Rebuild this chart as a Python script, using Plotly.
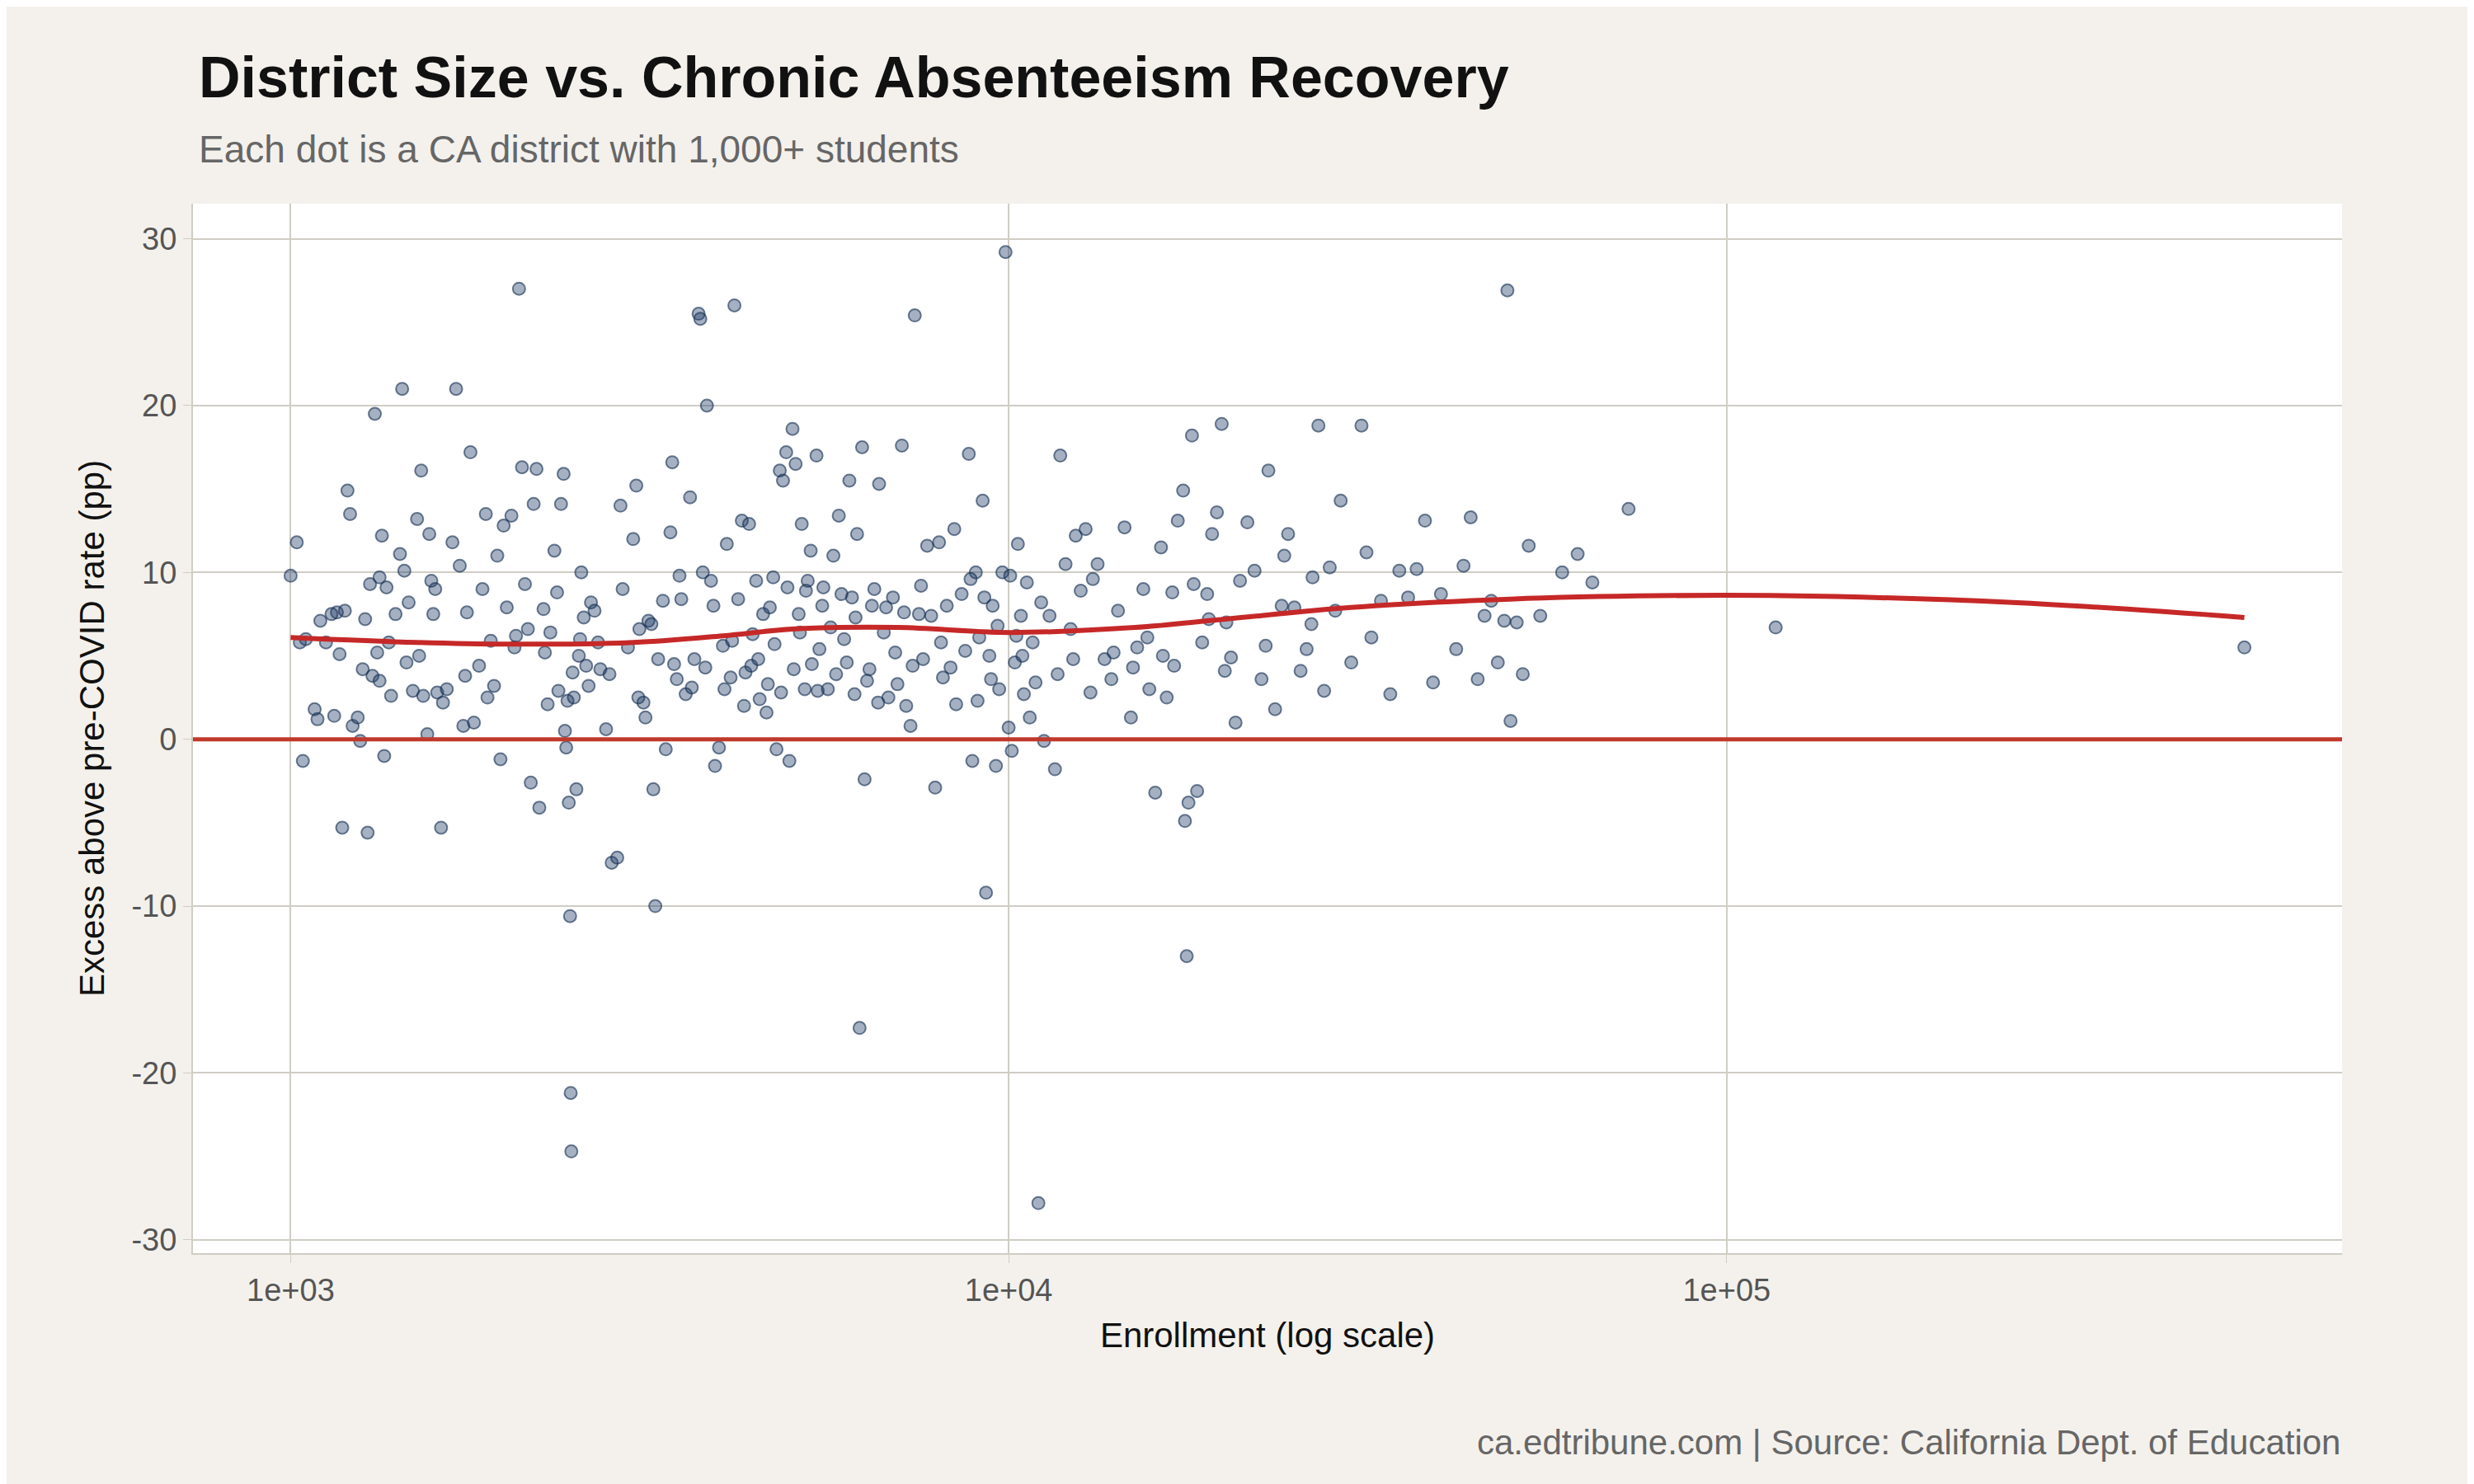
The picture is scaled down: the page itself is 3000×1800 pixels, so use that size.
import plotly.graph_objects as go

pts = [(1000,9.8),(1020,11.8),(1030,5.8),(1040,-1.3),(1080,1.8),(1090,1.2),(1100,7.1),(1120,5.8),(1150,1.4),(1160,7.6),(1170,5.1),(1180,-5.3),(1190,7.7),(1200,14.9),(1210,13.5),(1220,0.8),(1240,1.3),(1250,-0.1),(1260,4.2),(1270,7.2),(1280,-5.6),(1290,9.3),(1300,3.8),(1310,19.5),(1320,5.2),(1330,9.7),(1340,12.2),(1350,-1.0),(1360,9.1),(1370,5.8),(1380,2.6),(1400,7.5),(1420,11.1),(1430,21.0),(1440,10.1),(1460,8.2),(1480,2.9),(1500,13.2),(1510,5.0),(1520,16.1),(1530,2.6),(1550,0.3),(1560,12.3),(1570,9.5),(1580,7.5),(1600,2.8),(1620,-5.3),(1630,2.2),(1650,3.0),(1680,11.8),(1700,21.0),(1720,10.4),(1740,0.8),(1760,7.6),(1780,17.2),(1800,1.0),(1830,4.4),(1850,9.0),(1870,13.5),(1900,5.9),(1920,3.2),(1940,11.0),(1960,-1.2),(1980,12.8),(2000,7.9),(2030,13.4),(2060,6.2),(2080,27.0),(2100,16.3),(2120,9.3),(2140,6.6),(2160,-2.6),(2180,14.1),(2200,16.2),(2220,-4.1),(2250,7.8),(2280,2.1),(2300,6.4),(2330,11.3),(2350,8.8),(2380,14.1),(2400,15.9),(2410,0.5),(2420,-0.5),(2430,2.3),(2440,-3.8),(2450,-10.6),(2455,-21.2),(2460,-24.7),(2470,4.0),(2480,2.5),(2500,-3.0),(2520,5.0),(2540,10.0),(2560,7.3),(2580,4.4),(2600,3.2),(2620,8.2),(2650,7.7),(2700,4.2),(2750,0.6),(2800,-7.4),(2850,-7.1),(2880,14.0),(2900,9.0),(2950,5.5),(3000,12.0),(3030,15.2),(3060,6.6),(3100,2.2),(3120,1.3),(3150,7.1),(3200,-3.0),(3220,-10.0),(3250,4.8),(3300,8.3),(3330,-0.6),(3380,12.4),(3400,16.6),(3450,3.6),(3500,8.4),(3550,2.7),(3600,14.5),(3650,4.8),(3700,25.5),(3720,25.2),(3750,10.0),(3800,20.0),(3850,9.5),(3900,-1.6),(3950,-0.5),(4000,5.6),(4050,11.7),(4100,3.7),(4150,26.0),(4200,8.4),(4250,13.1),(4300,4.0),(4350,12.9),(4400,6.3),(4450,9.5),(4500,2.4),(4550,7.5),(4600,1.6),(4650,7.9),(4700,9.7),(4750,-0.6),(4800,16.1),(4850,15.5),(4900,17.2),(4950,-1.3),(5000,18.6),(5050,16.5),(5100,7.5),(5150,12.9),(5200,3.0),(5250,9.5),(5300,11.3),(5400,17.0),(5450,5.4),(5500,8.0),(5600,3.0),(5700,11.0),(5800,13.4),(5900,6.0),(6000,15.5),(6050,8.5),(6100,2.7),(6150,12.3),(6200,-17.3),(6250,17.5),(6300,-2.4),(6400,4.2),(6500,9.0),(6600,15.3),(6700,6.4),(6800,2.5),(6900,8.5),(7000,3.3),(7100,17.6),(7200,2.0),(7300,0.8),(7400,25.4),(7500,7.5),(7600,4.8),(7700,11.6),(7800,7.4),(7900,-2.9),(8000,11.8),(8100,3.7),(8200,8.0),(8300,4.3),(8400,12.6),(8600,8.7),(8700,5.3),(8800,17.1),(8900,-1.3),(9000,10.0),(9100,6.1),(9200,14.3),(9300,-9.2),(9400,5.0),(9500,8.0),(9600,-1.6),(9700,3.0),(9800,10.0),(9900,29.2),(10000,0.7),(10100,-0.7),(10200,4.6),(10300,11.7),(10400,7.4),(10500,2.7),(10600,9.4),(10700,1.3),(10800,5.8),(10900,3.4),(11000,-27.8),(11200,-0.1),(11400,7.4),(11600,-1.8),(11800,17.0),(12000,10.5),(12200,6.6),(12400,12.2),(12600,8.9),(12800,12.6),(13000,2.8),(13300,10.5),(13600,4.8),(13900,3.6),(14200,7.7),(14500,12.7),(14800,1.3),(15100,5.5),(15400,9.0),(15700,3.0),(16000,-3.2),(16300,11.5),(16600,2.5),(16900,8.8),(17200,13.1),(17500,14.9),(17600,-4.9),(17700,-13.0),(17800,-3.8),(18000,18.2),(18300,-3.1),(18600,5.8),(18900,8.7),(19200,12.3),(19500,13.6),(19800,18.9),(20100,7.0),(20400,4.9),(20700,1.0),(21000,9.5),(21500,13.0),(22000,10.1),(22500,3.6),(23000,16.1),(23500,1.8),(24000,8.0),(24500,12.3),(25000,7.9),(25500,4.1),(26000,5.4),(26500,9.7),(27000,18.8),(27500,2.9),(28000,10.3),(28500,7.7),(29000,14.3),(30000,4.6),(31000,18.8),(31500,11.2),(32000,6.1),(33000,8.3),(34000,2.7),(35000,10.1),(36000,8.5),(37000,10.2),(38000,13.1),(39000,3.4),(40000,8.7),(42000,5.4),(43000,10.4),(44000,13.3),(45000,3.6),(46000,7.4),(47000,8.3),(48000,4.6),(49000,7.1),(50000,1.1),(52000,3.9),(49500,26.9),(51000,7.0),(53000,11.6),(55000,7.4),(59000,10.0),(62000,11.1),(65000,9.4),(73000,13.8),(117000,6.7),(526000,5.5),
       (1050,6.0),(1140,7.5),(1330,3.5),(1450,4.6),(1590,9.0),(1750,3.8),(1880,2.5),(2050,5.5),(2260,5.2),(2360,2.9),(2530,6.0),(2680,5.8),(2780,3.9),(3050,2.5),(3180,6.9),(3420,4.5),(3480,9.8),(3620,3.1),(3780,4.3),(3880,8.0),(4020,3.0),(4120,5.9),(4280,2.0),(4380,4.4),(4480,4.8),(4620,3.3),(4720,5.7),(4820,2.8),(4920,9.1),(5020,4.2),(5120,6.4),(5220,8.9),(5320,4.5),(5420,2.9),(5520,9.1),(5650,6.7),(5750,3.9),(5850,8.7),(5950,4.6),(6120,7.3),(6350,3.5),(6450,8.0),(6580,2.2),(6750,7.9),(6950,5.2),(7150,7.6),(7350,4.4),(7550,9.2),(8050,5.8),(8450,2.1),(8850,9.6),(9050,2.3),(9250,8.5),(9450,3.6),(9650,6.8),(10050,9.8),(10250,6.2),(10450,5.0),(11100,8.2),(11700,3.9),(12300,4.8),(13100,9.6),(14000,5.2),(14900,4.3),(15600,6.1),(16400,5.0),(17000,4.4),(18100,9.3),(19000,7.2),(20000,4.1),(22800,5.6),(24200,11.0),(26400,6.9)]
enrollment = [p[0] for p in pts]
excess = [p[1] for p in pts]

smooth_x = [1000, 1500, 2000, 3000, 4000, 5000, 7000, 10000, 15000, 20000, 30000, 50000, 80000, 120000, 250000, 526000]
smooth_y = [6.1, 5.8, 5.7, 5.8, 6.2, 6.6, 6.7, 6.4, 6.7, 7.2, 7.9, 8.4, 8.6, 8.6, 8.2, 7.3]

y_ticks = [-30, -20, -10, 0, 10, 20, 30]
y_labels = ["-30", "-20", "-10", "0", "10", "20", "30"]

font = "Liberation Sans, Arial, sans-serif"
grid = "#cfcdc4"

fig = go.Figure()
fig.add_trace(go.Scatter(
    x=enrollment, y=excess, mode="markers",
    marker=dict(size=15, color="rgba(31,61,102,0.4)", line=dict(color="rgba(20,45,80,0.6)", width=2)),
))
fig.add_trace(go.Scatter(x=smooth_x, y=smooth_y, mode="lines", line=dict(color="#c62828", width=6, shape="spline")))
fig.add_shape(type="line", xref="x domain", yref="y", x0=0, x1=1, y0=0, y1=0, line=dict(color="#c0392b", width=5))

fig.update_layout(
    width=3000, height=1800, showlegend=False,
    paper_bgcolor="#f4f1ec", plot_bgcolor="#ffffff",
    margin=dict(l=226, r=168, t=239, b=288),
    font=dict(family=font, color="#555555"),
    annotations=[
        dict(text="<b>District Size vs. Chronic Absenteeism Recovery</b>", xref="paper", yref="paper",
             x=0.002, y=1.088, xanchor="left", yanchor="bottom", showarrow=False,
             font=dict(size=70, color="#111111", family=font)),
        dict(text="Each dot is a CA district with 1,000+ students", xref="paper", yref="paper",
             x=0.002, y=1.03, xanchor="left", yanchor="bottom", showarrow=False,
             font=dict(size=46, color="#666666", family=font)),
        dict(text="ca.edtribune.com | Source: California Dept. of Education", xref="paper", yref="paper",
             x=1, y=-0.2, xanchor="right", yanchor="bottom", showarrow=False,
             font=dict(size=42, color="#666666", family=font)),
    ],
)
fig.update_xaxes(
    type="log", range=[2.864, 5.857], tickvals=[1000, 10000, 100000], ticktext=["1e+03", "1e+04", "1e+05"],
    showgrid=True, gridcolor=grid, gridwidth=2, zeroline=False,
    showline=True, linecolor=grid, linewidth=2, ticks="outside", tickcolor=grid, ticklen=10,
    tickfont=dict(size=38, color="#555555"),
    title=dict(text="Enrollment (log scale)", font=dict(size=42, color="#111111"), standoff=20),
)
fig.update_yaxes(
    range=[-30.8, 32.1], tickvals=y_ticks, ticktext=y_labels,
    showgrid=True, gridcolor=grid, gridwidth=2, zeroline=False,
    showline=True, linecolor=grid, linewidth=2, ticks="outside", tickcolor=grid, ticklen=10,
    tickfont=dict(size=38, color="#555555"),
    title=dict(text="Excess above pre-COVID rate (pp)", font=dict(size=42, color="#111111"), standoff=20),
)
fig.write_html("out.html")
